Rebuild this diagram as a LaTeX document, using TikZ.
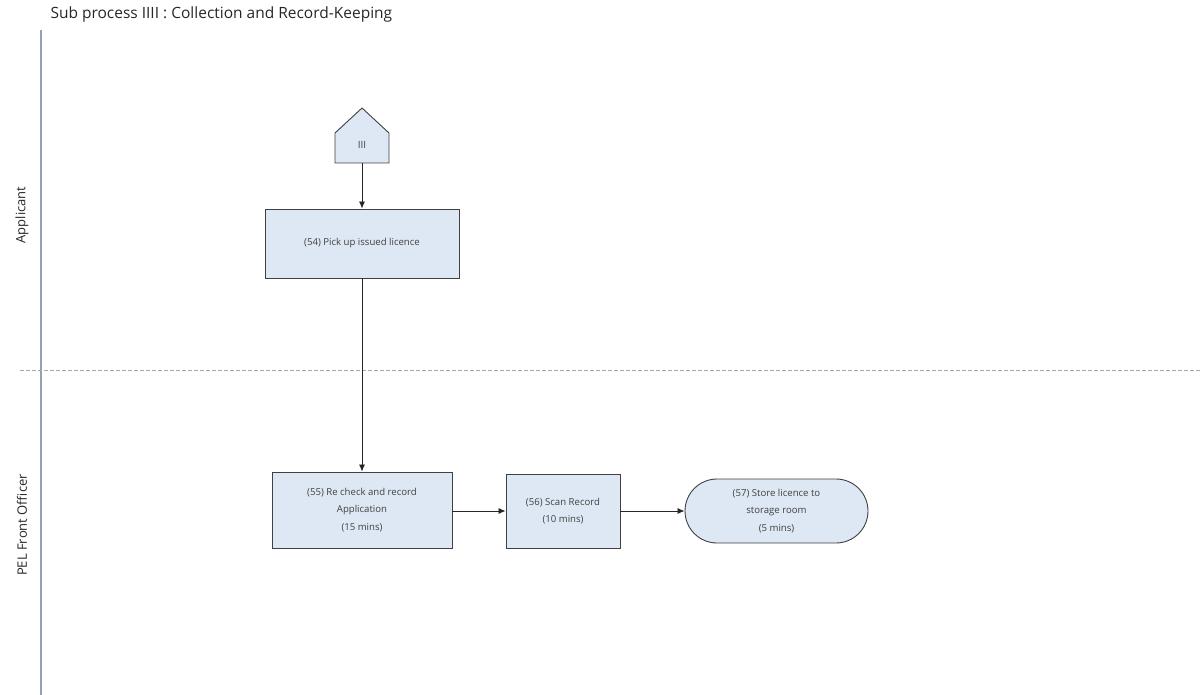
\documentclass[tikz,border=0pt]{standalone}
\usepackage{fontspec}
\setmainfont{Open Sans}
\usetikzlibrary{shapes.geometric,arrows.meta}
\definecolor{boxfill}{HTML}{DEE8F5}
\definecolor{boxline}{HTML}{404040}
\definecolor{laneline}{HTML}{8FA3B8}
\definecolor{txt}{HTML}{404040}
\begin{document}
\begin{tikzpicture}[x=1pt,y=-1pt,
  proc/.style={draw=boxline,fill=boxfill,line width=0.9pt,inner sep=0pt,
    font=\fontsize{9.6}{17.5}\selectfont,text=txt,align=center},
  flow/.style={-{Latex[length=7pt,width=6pt]},line width=0.8pt,draw=black!85},
  lane/.style={font=\fontsize{13}{15}\selectfont,text=black!85,rotate=90}]
\useasboundingbox (0,0) rectangle (1203,695);
% title and lane dividers
\node[anchor=west,font=\fontsize{15.5}{18}\selectfont,text=black!85] (title) at (47,14) {Sub process IIII : Collection and Record-Keeping};
\draw[laneline,line width=1.2pt] (41,30) -- (41,695);
\draw[gray!70,dashed,line width=0.6pt,dash pattern=on 4pt off 2pt] (20,370) -- (1200,370);
\node[lane] (lapp) at (22,215) {Applicant};
\node[lane] (lpel) at (22,525) {PEL Front Officer};
% off-page connector III
\draw[boxline,fill=boxfill,line width=0.9pt] (335,163) -- (335,133) -- (362,108) -- (389,133) -- (389,163) -- cycle;
\coordinate (conbot) at (362,163);
\node[font=\fontsize{10}{12}\selectfont,text=txt] (con) at (362,145) {III};
% process steps
\node[proc,minimum width=194pt,minimum height=69pt] (s54) at (362,243.5) {(54) Pick up issued licence};
\node[proc,minimum width=180pt,minimum height=76pt] (s55) at (362,510) {(55) Re check and record\\Application\\(15 mins)};
\node[proc,minimum width=114pt,minimum height=74pt] (s56) at (563,511) {(56) Scan Record\\(10 mins)};
\node[proc,rounded corners=32pt,minimum width=183pt,minimum height=64pt] (s57) at (776.5,511) {(57) Store licence to\\storage room\\(5 mins)};
% connectors
\draw[flow] (conbot) -- (s54.north);
\draw[flow] (s54.south) -- (s55.north);
\draw[flow] (s55.east |- s56.west) -- (s56.west);
\draw[flow] (s56.east) -- (s57.west);
\end{tikzpicture}
\end{document}
